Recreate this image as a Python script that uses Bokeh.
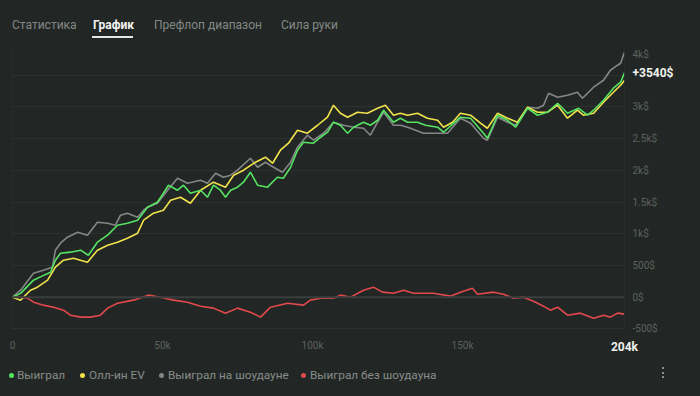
from bokeh.plotting import figure
from bokeh.models import (Range1d, FixedTicker, Span, LinearAxis, Div)
from bokeh.layouts import column
from bokeh.embed import file_html
from bokeh.resources import INLINE

# ---- data (hands in thousands, results in $) ----
green_hands = [0, 2.7, 7, 9.3, 12.7, 14.3, 16, 19.3, 22.7, 25.3, 28.3, 31.7, 35, 38.3, 41.7, 45, 48.3, 50.3, 52, 55,
               57, 59.3, 62.7, 65, 67, 69.3, 71, 72.7, 75, 77, 79.3, 81.7, 85, 88.3, 90.3, 92.7, 95, 97, 100.3, 102.7,
               105, 107, 109.3, 111.7, 113.7, 117, 119.3, 121.7, 123.7, 127, 129.3, 131.7, 135, 137.7, 141.7,
               143.7, 149.3, 152.7, 157, 158.3, 161.7, 165, 167.7, 171.7, 175, 178.3, 181.7, 185, 188.7, 191.7,
               193.7, 197, 200.3, 202.7, 204]
green_won = [0, 60, 268, 320, 394, 583, 694, 710, 741, 662, 867, 978, 1135, 1167, 1214, 1419, 1498, 1640, 1766, 1687,
             1766, 1640, 1687, 1577, 1766, 1687, 1577, 1687, 1735, 1814, 1971, 1766, 1735, 1892, 1877, 2050, 2318, 2444,
             2429, 2523, 2602, 2760, 2712, 2586, 2681, 2760, 2712, 2791, 2949, 2760, 2823, 2760, 2760, 2712, 2681,
             2602, 2839, 2823, 2586, 2507, 2870, 2791, 2681, 2980, 2870, 2917, 3059, 2902, 2980, 2870,
             2949, 3107, 3296, 3391, 3540]

yellow_hands = [0, 2.7, 6, 8.3, 11.7, 14.3, 17, 20.3, 25, 28.3, 31.7, 35, 38.3, 41.7, 43.7, 47, 50.3, 52.7, 56, 59.3,
                62.7, 67, 71, 73.7, 77, 81, 84.3, 86.7, 89.3, 92, 95, 98.3, 101.7, 105, 107, 109.3, 111.7, 115, 118.3,
                121.7, 124.3, 127, 129.3, 131.7, 135, 138.3, 141.7, 143.7, 146.7, 149.3, 152.7, 156, 158.3, 161.7, 165,
                168.3, 171.7, 175, 178.3, 181.7, 185, 188.3, 190.3, 193.7, 197, 200.3, 202.7, 204]
yellow_ev = [0, -47, 110, 158, 268, 473, 583, 615, 552, 741, 820, 867, 930, 1009, 1214, 1325, 1372, 1530, 1577, 1482,
             1687, 1814, 1735, 1924, 2003, 2129, 2208, 2113, 2318, 2429, 2634, 2586, 2712, 2839, 3028, 2902, 2839, 2917,
             2902, 2980, 3028, 2870, 2902, 2870, 2902, 2823, 2791, 2681, 2760, 2902, 2870, 2744, 2665, 2902, 2823,
             2760, 2996, 2917, 2917, 3028, 2823, 2949, 2870, 2902, 3075, 3233, 3343, 3422]

grey_hands = [0, 2.7, 7, 10.3, 13.3, 14.3, 16, 18.3, 21.7, 25, 28.3, 31.7, 34.3, 36, 38.3, 41.7, 43.7, 45, 48.3, 51.7,
              55, 58.3, 62.7, 65, 67.7, 70.3, 72.7, 75, 79.3, 81.7, 84.3, 87, 90, 92.7, 95, 98.3, 100.3, 103.7, 107,
              110.3, 113.7, 117, 119.3, 121.7, 123.7, 127, 129.3, 131.7, 137, 142, 145, 149.3, 152.7, 157, 158.3,
              161.7, 165, 167.7, 171.7, 175, 177, 178.7, 181.7, 185, 188.3, 190, 193.7, 197, 199.3, 201.7, 202.7, 204]
grey_sd = [0, 110, 378, 426, 473, 741, 852, 946, 1025, 978, 1183, 1167, 1135, 1293, 1325, 1262, 1372, 1419, 1482, 1687,
           1877, 1798, 1845, 1798, 1955, 1892, 1924, 2003, 2192, 2050, 2129, 2050, 1971, 2129, 2366, 2555, 2476, 2586,
           2760, 2712, 2681, 2665, 2555, 2760, 2917, 2712, 2712, 2681, 2586, 2586, 2586, 2823, 2744, 2507, 2476,
           2839, 2760, 2712, 2996, 2980, 3028, 3217, 3154, 3186, 3233, 3138, 3312, 3422, 3580, 3659, 3690, 3864]

red_hands = [0, 2.7, 5, 7, 10.3, 13.7, 17, 19.3, 22.7, 26, 29.3, 31.7, 35, 40.3, 45.3, 49.3, 53.7, 58.3, 62.7, 67,
             71, 75, 79.3, 82.7, 86, 91.7, 97, 99.3, 102.7, 107, 109.3, 112.7, 117, 120.3, 123.3, 127, 130.3, 133.7,
             140.3, 146, 149.3, 153.3, 155, 160.3, 163.7, 167, 170.3, 173.7, 177, 179.3, 181.7, 185, 189.3, 193.7,
             197, 199.3, 201.7, 204]
red_nosd = [0, 0, -16, -79, -126, -158, -205, -284, -315, -315, -284, -173, -95, -47, 32, 0, -47, -79, -142, -173,
            -252, -173, -237, -315, -158, -95, -126, -47, -16, -16, 32, 0, 110, 158, 79, 63, 110, 63,
            63, 16, 79, 142, 47, 79, 47, -16, 0, -63, -142, -205, -158, -284, -252, -331,
            -284, -315, -252, -268]

tabs = ["Статистика", "График", "Префлоп диапазон", "Сила руки"]
legend_labels = ["Выиграл", "Олл-ин EV", "Выиграл на шоудауне", "Выиграл без шоудауна"]
x_ticks = [0, 50, 100, 150]
x_tick_labels = ["0", "50k", "100k", "150k"]
total_hands = 204
total_hands_label = "204k"
y_ticks = [-500, 0, 500, 1000, 1500, 2000, 2500, 3000, 3830]
y_tick_labels = ["-500$", "0$", "500$", "1k$", "1.5k$", "2k$", "2.5k$", "3k$", "4k$"]
grid_ticks = [-500, 500, 1000, 1500, 2000, 2500, 3000, 3500]

BG = "#222725"
GRID = "#2d3231"
FONT = "Roboto"
AXIS_TXT = "#5c615f"
GREEN, YELLOW, GREY, RED = "#55e462", "#f1e34c", "#858786", "#e2494c"
colors = [GREEN, YELLOW, GREY, RED]

# ---- tabs (top) ----
tab_left = [12, 93, 154, 281]
parts = []
for i, (t, lx) in enumerate(zip(tabs, tab_left)):
    style = "color:#f2f2f2;font-weight:bold;" if i == 1 else "color:#828785;"
    parts.append(f'<span style="position:absolute;left:{lx}px;top:17px;line-height:16px;white-space:nowrap;{style}">{t}</span>')
parts.append('<span style="position:absolute;left:92px;top:36px;width:41px;height:2px;background:#e6e6e6;"></span>')
top_div = Div(text=f'<div style="position:relative;width:700px;height:40px;font-family:{FONT},sans-serif;font-size:12px;">'
              + "".join(parts) + '</div>', width=700, height=40, margin=0, styles={"background-color": BG})

# ---- figure ----
p = figure(width=700, height=316, x_range=Range1d(0, total_hands), y_range=Range1d(-510, 3970),
           output_backend="svg", toolbar_location=None, y_axis_location="right",
           min_border_left=12, min_border_right=76, min_border_top=5, min_border_bottom=27,
           background_fill_color=BG, border_fill_color=BG, outline_line_color=None, margin=0)

p.xgrid.visible = False
p.ygrid.ticker = FixedTicker(ticks=grid_ticks)
p.ygrid.grid_line_color = GRID
p.ygrid.grid_line_width = 1

x_end_axis = LinearAxis(ticker=FixedTicker(ticks=[total_hands]),
                        major_label_overrides={total_hands: total_hands_label})
y_end_axis = LinearAxis(ticker=FixedTicker(ticks=[green_won[-1]]),
                        major_label_overrides={green_won[-1]: f"+{green_won[-1]}$"})
p.add_layout(x_end_axis, "below")
p.add_layout(y_end_axis, "right")

for ax in (p.xaxis[0], p.yaxis[0], x_end_axis, y_end_axis):
    ax.axis_line_color = None
    ax.major_tick_line_color = None
    ax.minor_tick_line_color = None
    ax.major_tick_out = 0
    ax.major_tick_in = 0
    ax.major_label_text_font = FONT
    ax.major_label_text_font_size = "10px"
    ax.major_label_text_color = AXIS_TXT

p.xaxis[0].ticker = FixedTicker(ticks=x_ticks)
p.xaxis[0].major_label_overrides = {t: l for t, l in zip(x_ticks, x_tick_labels)}
p.xaxis[0].major_label_standoff = 10

p.yaxis[0].ticker = FixedTicker(ticks=y_ticks)
p.yaxis[0].major_label_overrides = {t: l for t, l in zip(y_ticks, y_tick_labels)}
p.yaxis[0].major_label_standoff = 8

for ax in (x_end_axis, y_end_axis):
    ax.major_label_text_font_size = "12px"
    ax.major_label_text_font_style = "bold"
    ax.major_label_text_color = "#f1f1ec"
x_end_axis.major_label_standoff = -14
y_end_axis.major_label_standoff = -28

p.add_layout(Span(location=0, dimension="height", line_color=GRID, line_width=1))
p.add_layout(Span(location=total_hands, dimension="height", line_color=GRID, line_width=1))
p.add_layout(Span(location=0, dimension="width", line_color="#3a3f3e", line_width=2))

p.line(red_hands, red_nosd, line_color=RED, line_width=1.6)
p.line(grey_hands, grey_sd, line_color=GREY, line_width=1.6)
p.line(yellow_hands, yellow_ev, line_color=YELLOW, line_width=1.6)
p.line(green_hands, green_won, line_color=GREEN, line_width=1.6)

# ---- legend row (bottom) ----
dot_x = [11, 82, 161, 303]
text_x = [17, 89, 168, 310]
parts = []
for lab, c, dx, tx in zip(legend_labels, colors, dot_x, text_x):
    parts.append(f'<span style="position:absolute;left:{dx-2.5}px;top:16.5px;width:5px;height:5px;border-radius:50%;background:{c};"></span>')
    parts.append(f'<span style="position:absolute;left:{tx}px;top:11px;line-height:16px;white-space:nowrap;color:#878c8a;">{lab}</span>')
for dy in (11.3, 15.7, 20):
    parts.append(f'<span style="position:absolute;left:661.5px;top:{dy}px;width:2px;height:2px;background:#8a8f8d;"></span>')
bottom_div = Div(text=f'<div style="position:relative;width:700px;height:40px;font-family:{FONT},sans-serif;font-size:11.8px;">'
                 + "".join(parts) + '</div>', width=700, height=40, margin=0, styles={"background-color": BG})

layout = column(top_div, p, bottom_div, spacing=0, styles={"background-color": BG})
html = file_html(layout, INLINE)
html = html.replace("</head>", f"<style>html,body{{background:{BG};}}</style></head>", 1)
open("out.html", "w").write(html)
